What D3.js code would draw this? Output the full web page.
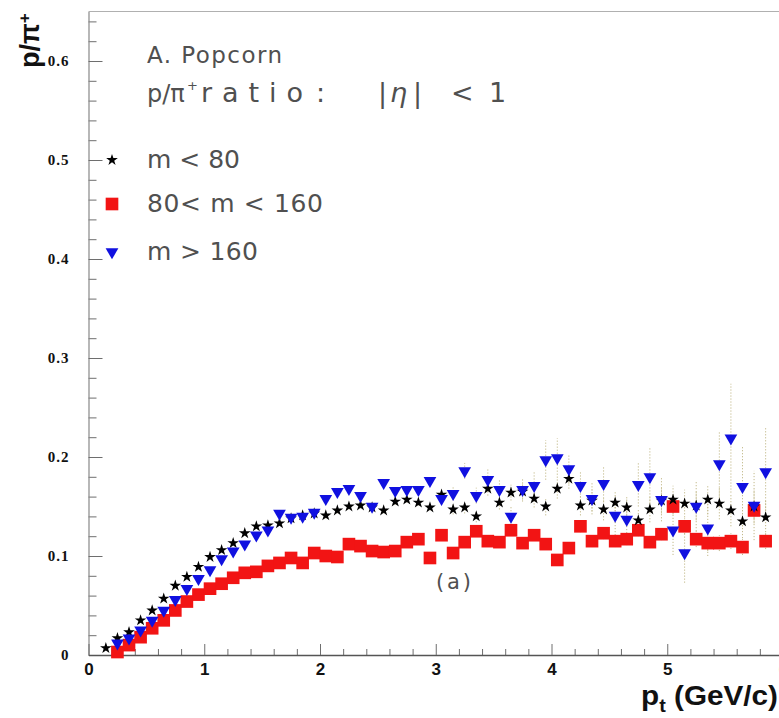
<!DOCTYPE html>
<html>
<head>
<meta charset="utf-8">
<script src="https://cdn.jsdelivr.net/npm/d3@7"></script>
<style>
  html, body { margin: 0; padding: 0; background: #fff; overflow: hidden; }
  svg { display: block; }
</style>
</head>
<body>
<svg id="chart" width="779" height="718"></svg>
<script>
// p/pi+ ratio vs pt, |eta| < 1, three multiplicity classes (A. Popcorn)
const ptStar = [0.15,0.25,0.35,0.45,0.55,0.65,0.75,0.85,0.95,
  1.05,1.15,1.25,1.35,1.45,1.55,1.65,1.75,1.85,1.95,
  2.05,2.15,2.25,2.35,2.45,2.55,2.65,2.75,2.85,2.95,
  3.05,3.15,3.25,3.35,3.45,3.55,3.65,3.75,3.85,3.95,
  4.05,4.15,4.25,4.35,4.45,4.55,4.65,4.75,4.85,4.95,
  5.05,5.15,5.25,5.35,5.45,5.55,5.65,5.75,5.85];

// m < 80
const ratioStar = [0.007,0.017,0.023,0.035,0.045,0.057,0.070,0.079,0.089,
  0.099,0.106,0.113,0.123,0.130,0.131,0.133,0.138,0.141,0.143,
  0.141,0.146,0.150,0.151,0.149,0.146,0.155,0.157,0.154,0.149,
  0.162,0.147,0.149,0.140,0.168,0.154,0.164,0.165,0.158,0.150,
  0.168,0.178,0.151,0.156,0.147,0.154,0.149,0.136,0.147,0.156,
  0.157,0.153,0.151,0.157,0.153,0.146,0.135,0.150,0.139];
const errStar = [0.001,0.001,0.001,0.001,0.001,0.001,0.001,0.001,0.001,
  0.001,0.001,0.001,0.001,0.001,0.001,0.001,0.001,0.001,0.001,
  0.003,0.003,0.003,0.003,0.003,0.003,0.003,0.003,0.003,0.003,
  0.005,0.005,0.006,0.006,0.007,0.007,0.008,0.008,0.009,0.009,
  0.010,0.010,0.010,0.011,0.011,0.012,0.012,0.012,0.013,0.013,
  0.014,0.014,0.015,0.015,0.016,0.016,0.017,0.017,0.018];

const ptBin = [0.25,0.35,0.45,0.55,0.65,0.75,0.85,0.95,
  1.05,1.15,1.25,1.35,1.45,1.55,1.65,1.75,1.85,1.95,
  2.05,2.15,2.25,2.35,2.45,2.55,2.65,2.75,2.85,2.95,
  3.05,3.15,3.25,3.35,3.45,3.55,3.65,3.75,3.85,3.95,
  4.05,4.15,4.25,4.35,4.45,4.55,4.65,4.75,4.85,4.95,
  5.05,5.15,5.25,5.35,5.45,5.55,5.65,5.75,5.85];

// 80 < m < 160
const ratioSquare = [0.003,0.010,0.018,0.027,0.035,0.045,0.054,0.061,
  0.067,0.072,0.078,0.083,0.084,0.090,0.093,0.098,0.093,0.103,
  0.100,0.099,0.112,0.110,0.105,0.104,0.105,0.114,0.117,0.098,
  0.121,0.103,0.114,0.125,0.115,0.114,0.126,0.113,0.121,0.112,
  0.096,0.108,0.130,0.115,0.123,0.115,0.117,0.126,0.114,0.122,
  0.150,0.130,0.117,0.113,0.113,0.115,0.109,0.146,0.115];
const errSquare = [0.001,0.001,0.001,0.001,0.001,0.001,0.001,0.001,
  0.001,0.001,0.001,0.001,0.001,0.001,0.001,0.001,0.001,0.001,
  0.002,0.002,0.002,0.002,0.002,0.002,0.002,0.002,0.002,0.002,
  0.004,0.004,0.004,0.004,0.004,0.004,0.004,0.004,0.004,0.004,
  0.006,0.006,0.006,0.006,0.006,0.006,0.006,0.006,0.006,0.006,
  0.008,0.008,0.008,0.008,0.008,0.008,0.008,0.008,0.008];

// m > 160
const ratioTri = [0.012,0.017,0.025,0.035,0.045,0.056,0.067,0.077,
  0.086,0.097,0.105,0.112,0.121,0.126,0.143,0.139,0.140,0.144,
  0.158,0.165,0.168,0.161,0.150,0.174,0.166,0.167,0.167,0.176,
  0.158,0.163,0.186,0.161,0.177,0.167,0.140,0.167,0.171,0.197,
  0.199,0.188,0.171,0.158,0.173,0.141,0.137,0.172,0.180,0.157,
  0.126,0.103,0.150,0.128,0.193,0.219,0.170,0.151,0.185];
const errTri = [0.001,0.001,0.001,0.001,0.001,0.001,0.001,0.001,
  0.001,0.001,0.001,0.001,0.001,0.001,0.001,0.001,0.001,0.001,
  0.004,0.004,0.004,0.004,0.004,0.004,0.004,0.004,0.004,0.004,
  0.006,0.007,0.008,0.008,0.012,0.010,0.010,0.012,0.015,0.020,
  0.020,0.015,0.015,0.016,0.018,0.020,0.020,0.022,0.030,0.022,
  0.025,0.030,0.025,0.028,0.033,0.055,0.040,0.035,0.045];

const xTickValues = [0,1,2,3,4,5,6];
const xMinorValues = [0.2,0.4,0.6,0.8,1.2,1.4,1.6,1.8,2.2,2.4,2.6,2.8,3.2,3.4,3.6,3.8,4.2,4.4,4.6,4.8,5.2,5.4,5.6,5.8];
const yTickValues = [0,0.1,0.2,0.3,0.4,0.5,0.6];
const yMinorValues = [0.02,0.04,0.06,0.08,0.12,0.14,0.16,0.18,0.22,0.24,0.26,0.28,0.32,0.34,0.36,0.38,
  0.42,0.44,0.46,0.48,0.52,0.54,0.56,0.58,0.62,0.64];
const legendLabels = ["m < 80", "80< m < 160", "m > 160"];

const svg = d3.select("#chart");
const x = d3.scaleLinear().domain([0, 6]).range([88.5, 783]);
const y = d3.scaleLinear().domain([0, 0.65]).range([655, 11.5]);

const AXIS = "#6e6e6e";
const RED = "#f21414";
const BLUE = "#1010e0";

// frame top
svg.append("line").attr("x1", x(0)).attr("x2", x(6)).attr("y1", y(0.65)).attr("y2", y(0.65))
  .attr("stroke", "#b0b0b0").attr("stroke-width", 1.2);

// minor ticks
svg.append("g").attr("transform", `translate(${x(0)},0)`)
  .call(d3.axisLeft(y).tickValues(yMinorValues).tickSize(-8).tickFormat(""))
  .call(g => g.select(".domain").remove())
  .call(g => g.selectAll("line").attr("stroke", AXIS));
svg.append("g").attr("transform", `translate(0,${y(0)})`)
  .call(d3.axisBottom(x).tickValues(xMinorValues).tickSize(-6).tickFormat(""))
  .call(g => g.select(".domain").remove())
  .call(g => g.selectAll("line").attr("stroke", AXIS));

// major y axis
svg.append("g").attr("transform", `translate(${x(0)},0)`)
  .call(d3.axisLeft(y).tickValues(yTickValues).tickSize(-14).tickSizeOuter(0).tickPadding(19)
    .tickFormat(d => d === 0 ? "0" : d3.format(".1f")(d)))
  .call(g => g.select(".domain").attr("stroke", "#888").attr("stroke-width", 1.2))
  .call(g => g.selectAll("line").attr("stroke", AXIS))
  .call(g => g.selectAll("text").attr("font-family", "Liberation Serif, serif")
    .attr("font-weight", "bold").attr("font-size", 15).attr("letter-spacing", 1).attr("fill", "#111"));

// major x axis
svg.append("g").attr("transform", `translate(0,${y(0)})`)
  .call(d3.axisBottom(x).tickValues(xTickValues).tickSize(-11).tickSizeOuter(0).tickPadding(8)
    .tickFormat(d3.format("d")))
  .call(g => g.select(".domain").attr("stroke", "#555").attr("stroke-width", 1.4))
  .call(g => g.selectAll("line").attr("stroke", AXIS))
  .call(g => g.selectAll("text").attr("font-family", "Liberation Sans, Arial, sans-serif")
    .attr("font-weight", "bold").attr("font-size", 17).attr("fill", "#111"));

// series
const series = [
  { pt: ptBin, v: ratioSquare, e: errSquare, sym: d3.symbol(d3.symbolSquare, 160)(), fill: RED, rot: 0 },
  { pt: ptStar, v: ratioStar, e: errStar, sym: d3.symbol(d3.symbolStar, 42)(), fill: "#000", rot: 0 },
  { pt: ptBin, v: ratioTri, e: errTri, sym: d3.symbol(d3.symbolTriangle, 70)(), fill: BLUE, rot: 180 }
];

// error bars
series.forEach(s => {
  svg.append("g").selectAll("line").data(s.v.map((v, i) => ({ p: s.pt[i], v, e: s.e[i] })))
    .join("line")
    .attr("x1", d => x(d.p)).attr("x2", d => x(d.p))
    .attr("y1", d => y(d.v - d.e)).attr("y2", d => y(d.v + d.e))
    .attr("stroke", "#c2b98a").attr("stroke-width", 1).attr("stroke-dasharray", "1.2,1.8");
});

// markers
series.forEach(s => {
  svg.append("g").selectAll("path").data(s.v.map((v, i) => ({ p: s.pt[i], v })))
    .join("path")
    .attr("d", s.sym)
    .attr("transform", d => `translate(${x(d.p)},${y(d.v)}) rotate(${s.rot})`)
    .attr("fill", s.fill);
});

// text block
const TXT = "#505050";
const sans = "DejaVu Sans, Liberation Sans, sans-serif";
function label(str, tx, ty, size, len) {
  const t = svg.append("text").attr("x", tx).attr("y", ty).text(str)
    .attr("font-family", sans).attr("font-size", size).attr("fill", TXT);
  if (len) t.attr("textLength", len).attr("lengthAdjust", "spacing");
  return t;
}
label("A. Popcorn", 147, 63, 23, 135);

// ratio line
label("p/π", 147, 102, 24);
svg.append("text").attr("x", 187).attr("y", 90).text("+")
  .attr("font-family", sans).attr("font-size", 13).attr("fill", TXT);
label("ratio", 201, 102, 27, 102);
label(":", 316, 102, 27);
label("|", 378, 102, 27);
label("η", 390, 102, 27).attr("font-style", "italic");
label("|", 413, 102, 27);
label("<", 451, 102, 27);
label("1", 489, 102, 27);

// legend
const legendY = [168, 212, 260];
const legendSym = [series[1], series[0], series[2]];
legendLabels.forEach((t, i) => {
  const s = legendSym[i];
  svg.append("path").attr("d", s.sym)
    .attr("transform", `translate(112,${legendY[i] - 8}) rotate(${s.rot})`)
    .attr("fill", s.fill);
});
label(legendLabels[0], 147, legendY[0], 25, 93);
label(legendLabels[1], 147, legendY[1], 25, 176);
label(legendLabels[2], 147, legendY[2], 25, 111);

label("(a)", 436, 589, 21, 35);

// axis titles
const yt = svg.append("text").attr("transform", "translate(39,68) rotate(-90)")
  .attr("font-family", "Liberation Sans, Arial, sans-serif").attr("font-weight", "bold")
  .attr("font-size", 27).attr("fill", "#111");
yt.append("tspan").text("p/π");
yt.append("tspan").text("+").attr("font-size", 17).attr("dy", "-0.55em");

const xt = svg.append("text").attr("x", 0).attr("y", 0)
  .attr("font-family", "Liberation Sans, Arial, sans-serif").attr("font-weight", "bold")
  .attr("font-size", 27).attr("fill", "#111");
xt.append("tspan").text("p");
xt.append("tspan").text("t").attr("font-size", 18).attr("dy", 7);
xt.append("tspan").text(" (GeV/c)").attr("dy", -7);
const xtw = xt.node().getComputedTextLength();
xt.attr("transform", `translate(641,705) scale(${137 / xtw},1)`);
</script>
</body>
</html>
